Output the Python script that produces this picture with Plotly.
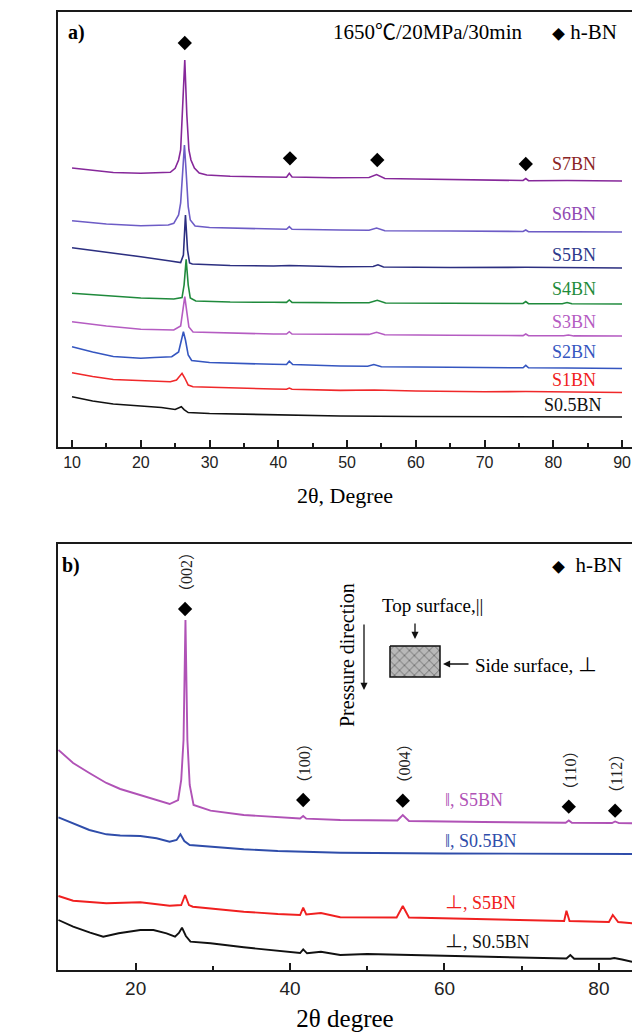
import plotly.graph_objects as go

# ---------------- panel a) : XRD patterns, 1650 C / 20 MPa / 30 min ----------------
s7_x = [10, 13, 16, 20, 23, 24.3, 25.0, 25.5, 25.8, 26.1, 26.4, 26.7, 27.0, 27.3, 27.8, 28.5, 29.6, 33, 39.3,
        41.2, 41.6, 42.0, 48, 53.2, 54.3, 55.5, 60, 70, 75.6, 76.0, 76.4, 82, 90]
s7_y = [279, 277, 274.5, 273.7, 274.5, 274.7, 278.7, 287, 297, 337, 387, 332, 297, 287, 279, 274, 272, 270.7,
        269.7, 269.8, 273.7, 270, 269.3, 269.5, 272.5, 268.5, 268, 267, 266.5, 268.5, 266.3, 266.5, 266]

s6_x = [10, 15, 20, 24, 24.8, 25.5, 25.8, 26.1, 26.35, 26.6, 26.9, 27.2, 27.9, 30, 39.3, 41.2, 41.6, 42.0,
        49, 53.2, 54.3, 55.5, 65, 75.6, 76.0, 76.4, 90]
s6_y = [226.3, 223, 221.3, 222, 223.7, 232, 244, 277, 302, 275, 240.3, 227, 221, 219.5, 217.7, 217.7, 220.3,
        217.7, 217, 216.8, 219, 216.3, 216, 215.5, 217, 215.4, 215]

s5_x = [10, 15, 20, 24.3, 25.8, 26.2, 26.5, 26.8, 27.1, 27.5, 33, 39.3, 41.6, 49, 53.8, 54.5, 55.3, 65, 76, 90]
s5_y = [199.3, 195, 190.3, 186, 184.5, 192, 232, 197, 184, 183, 181.5, 181, 181.5, 180.3, 180.5, 182.2, 180,
        179.5, 179.7, 179]

s4_x = [10, 15, 20, 24.8, 26.0, 26.3, 26.6, 26.9, 27.2, 28, 33, 39.3, 41.2, 41.6, 42.0, 49, 53.2, 54.4, 55.6,
        65, 75.6, 76.0, 76.4, 81.3, 82, 82.7, 90]
s4_y = [153.7, 151, 149, 148, 149.5, 162, 187.7, 162, 149, 146, 145, 144.7, 144.6, 147, 144.6, 144.3, 144.2,
        146.8, 144, 143.7, 143.5, 145.5, 143.4, 143.3, 144.5, 143.3, 143]

s3_x = [10, 15, 20, 24.8, 25.8, 26.1, 26.4, 26.7, 27.0, 27.6, 33, 39.3, 41.2, 41.6, 42.0, 49, 53.2, 54.3, 55.5,
        65, 75.6, 76.0, 76.4, 81.5, 82.2, 83, 90]
s3_y = [125.3, 121, 117.7, 117, 121, 135, 150.3, 135, 120, 115, 113.8, 113, 113, 115.3, 113, 112.7, 112.6,
        114.7, 112.2, 111.7, 111.4, 113, 111.3, 111.2, 112, 111.1, 111]

s2_x = [10, 13, 16, 20, 22, 24.5, 25.5, 25.9, 26.2, 26.5, 26.9, 27.4, 30, 39.3, 41.2, 41.6, 42.1, 49, 53,
        53.9, 55, 65, 75.6, 76.0, 76.4, 82, 90]
s2_y = [100.3, 95, 90.5, 88.7, 89.5, 90.3, 95, 107, 115.3, 107, 92, 86.5, 84.5, 82.7, 82.5, 85.8, 82.5, 81,
        80.7, 82.5, 80.3, 79.7, 79.2, 81.7, 79.2, 79, 78.5]

s1_x = [10, 13, 16, 20, 24.3, 25.2, 25.7, 26.0, 26.4, 26.9, 27.6, 33, 39.3, 41.2, 41.6, 42.0, 49, 54, 60, 70,
        76, 90]
s1_y = [74.3, 70.5, 67.5, 66.3, 65.3, 67, 72, 73.7, 69, 62, 60.3, 59, 58, 57.8, 59, 57.8, 56.6, 57, 56, 55.3,
        55.5, 54.5]

s05_x = [10, 13, 16, 20, 23, 25.0, 25.6, 25.9, 26.3, 26.9, 30, 39.3, 49, 60, 76, 90]
s05_y = [50.3, 46, 43, 41.3, 39.5, 37.5, 39.5, 40.3, 37.5, 34.5, 33.5, 32, 31, 30.5, 30.3, 30]

# h-BN reflections marked in panel a)
hbn_a_x = [26.4, 41.7, 54.4, 76.0]
hbn_a_y = [404, 288.7, 287, 283]

# ---------------- panel b) : top (||) and side (perpendicular) surfaces ----------------
par_s5_x = [10, 11.9, 14, 16.2, 18, 20.6, 22.5, 24.4, 25.5, 25.9, 26.2, 26.45, 26.7, 27.0, 27.5, 29.7, 34, 38.4,
            41.3, 41.7, 42.1, 46.5, 53.9, 54.6, 55.4, 65, 75.7, 76.1, 76.5, 81.7, 82.1, 82.6, 84.3]
par_s5_y = [220, 207, 197, 187, 181, 175, 170, 166, 170, 190, 230, 350, 230, 185, 165, 159.3, 155, 152.7,
            151.5, 154, 151.3, 150, 149.5, 155, 149, 148, 147.3, 149.5, 147.2, 147, 148.5, 146.9, 146.7]

par_s05_x = [10, 11.9, 14, 16.2, 18, 20.6, 22.7, 24.4, 25.3, 25.8, 26.3, 27.0, 29.7, 34, 38.4, 41.7, 46.5, 60,
             84.3]
par_s05_y = [152.7, 146.7, 140, 135.7, 134.5, 134, 131.7, 128.3, 130, 135.7, 129, 125, 123.3, 120.7, 119, 118.5,
             117.3, 116.5, 116]

per_s5_x = [10, 11.9, 16.2, 20.6, 24.4, 25.9, 26.4, 26.9, 27.4, 29.7, 34, 38.4, 41.3, 41.7, 42.1, 44, 46.5,
            53.8, 54.6, 55.4, 60, 70, 75.5, 75.8, 76.2, 80, 81.3, 81.8, 82.5, 84.3]
per_s5_y = [74, 69.3, 66.7, 67.7, 64.3, 65, 75, 65, 63.3, 61.7, 58.3, 56, 55, 62.3, 55.5, 57, 52.7, 52.5, 64,
            52.5, 51.7, 50, 49, 59.3, 49, 48.3, 48, 55, 48, 46.7]

per_s05_x = [10, 11.9, 14.1, 15.8, 17.8, 20.6, 22.3, 24.0, 25.1, 25.6, 26.0, 26.5, 27.1, 29.7, 34, 38.4, 41.3,
             41.7, 42.2, 44, 46.5, 50, 60, 70, 75.8, 76.3, 76.8, 81.5, 82, 83, 84.3]
per_s05_y = [50, 43.3, 37.3, 33.3, 36.7, 40, 40, 36.7, 33.3, 37, 42.3, 34, 28.3, 26.7, 22.7, 19.3, 17, 20.7,
             16.7, 18.3, 15, 16, 14, 12.7, 11.5, 15, 11.3, 11.2, 12, 10.5, 8.3]

hbn_b_x = [26.4, 41.7, 54.6, 76.1, 82.1]
hbn_b_y = [361, 170, 169.3, 163.3, 159.3]
hkl_b = ["002", "100", "004", "110", "112"]

# ---------------- styling ----------------
W, H = 632, 1035
SERIF = "Liberation Serif, Times New Roman, Noto Sans CJK SC, DejaVu Serif"
SANS = "Liberation Sans, Arial, sans-serif"
CJK = "Noto Sans CJK SC"
AX = "#1a1a1a"

series_a = [
    ("S7BN", s7_x, s7_y, "#86289A", "#8B2424", 283),
    ("S6BN", s6_x, s6_y, "#6D5CC6", "#9048B2", 232.7),
    ("S5BN", s5_x, s5_y, "#2C2F80", "#2E3A8C", 192),
    ("S4BN", s4_x, s4_y, "#1F8A3C", "#1E8B3A", 157.7),
    ("S3BN", s3_x, s3_y, "#B55CC2", "#B55CC2", 125.3),
    ("S2BN", s2_x, s2_y, "#3556C0", "#3556C0", 95.3),
    ("S1BN", s1_x, s1_y, "#F0282A", "#F02020", 67),
    ("S0.5BN", s05_x, s05_y, "#111111", "#111111", 42),
]

series_b = [
    ("‖, S5BN", par_s5_x, par_s5_y, "#B052B6", 170),
    ("‖, S0.5BN", par_s05_x, par_s05_y, "#2F4DAA", 129.3),
    ("⊥, S5BN", per_s5_x, per_s5_y, "#F02020", 66.7),
    ("⊥, S0.5BN", per_s05_x, per_s05_y, "#111111", 28.3),
]

fig = go.Figure()
annotations = []

for name, xs, ys, lc, tc, ly in series_a:
    fig.add_trace(go.Scatter(x=xs, y=ys, mode="lines", name=name, showlegend=False,
                             line=dict(color=lc, width=1.6), xaxis="x", yaxis="y"))
    annotations.append(dict(x=79.5 if name != "S0.5BN" else 78.4, y=ly, xref="x", yref="y", text=name,
                            showarrow=False, xanchor="left", yanchor="middle",
                            font=dict(family=SERIF, size=18, color=tc)))

fig.add_trace(go.Scatter(x=hbn_a_x, y=hbn_a_y, mode="markers", showlegend=False,
                         marker=dict(symbol="diamond", size=11, color="black"), xaxis="x", yaxis="y"))

for name, xs, ys, lc, ly in series_b:
    fig.add_trace(go.Scatter(x=xs, y=ys, mode="lines", name=name, showlegend=False,
                             line=dict(color=lc, width=1.9), xaxis="x2", yaxis="y2"))
    annotations.append(dict(x=59.8, y=ly, xref="x2", yref="y2", text=name, showarrow=False,
                            xanchor="left", yanchor="middle", font=dict(family=SERIF, size=18, color=lc)))

fig.add_trace(go.Scatter(x=hbn_b_x, y=hbn_b_y, mode="markers", showlegend=False,
                         marker=dict(symbol="diamond", size=11, color="black"), xaxis="x2", yaxis="y2"))
for hx, hy, lab in zip(hbn_b_x, hbn_b_y, hkl_b):
    text = (f"<span style='font-family:{CJK}'>（</span>{lab}"
            f"<span style='font-family:{CJK}'>）</span>")
    annotations.append(dict(x=hx, y=hy, xref="x2", yref="y2", text=text, showarrow=False, textangle=-90,
                            xanchor="center", yanchor="bottom", yshift=7,
                            font=dict(family=SERIF, size=16, color="#222")))

# sample sketch for panel b) drawn in pixel coordinates on a hidden full-page axis
fig.add_trace(go.Scatter(x=[390, 440, 440, 390, 390], y=[646, 646, 677, 677, 646], mode="lines",
                         fill="toself", showlegend=False, hoverinfo="skip",
                         fillpattern=dict(shape="x", fgcolor="#2a2a2a", bgcolor="#b8b8b8", size=7, solidity=0.25),
                         line=dict(color="#111", width=1.5), xaxis="x3", yaxis="y3"))


def px(x, y, text, **kw):
    d = dict(x=x, y=y, xref="x3", yref="y3", text=text, showarrow=False)
    d.update(kw)
    annotations.append(d)


def arrow(x0, y0, x1, y1):
    annotations.append(dict(x=x1, y=y1, ax=x0, ay=y0, xref="x3", yref="y3", axref="x3", ayref="y3",
                            text="", showarrow=True, arrowhead=2, arrowsize=1.1, arrowwidth=1.3,
                            arrowcolor="#111"))


# panel captions
px(76, 32, "<b>a)</b>", font=dict(family=SERIF, size=20, color="black"))
px(428, 32, "1650℃/20MPa/30min", font=dict(family=SERIF, size=21, color="black"))
px(550, 32, "<span style='font-size:13px'>◆</span> h-BN", xanchor="left",
   font=dict(family=SERIF, size=21, color="black"))
px(71, 565, "<b>b)</b>", font=dict(family=SERIF, size=20, color="black"))
px(550, 565, "<span style='font-size:13px'>◆</span>  h-BN", xanchor="left",
   font=dict(family=SERIF, size=21, color="black"))

# y-axis titles
px(22, 247, "Relative intensity", textangle=-90, font=dict(family=SERIF, size=22, color="black"))
px(23, 773, "Relative Intensity", textangle=-90, font=dict(family=SERIF, size=25, color="black"))

# pressure sketch
px(347, 655, "Pressure direction", textangle=-90, font=dict(family=SERIF, size=20, color="black"))
arrow(364, 623, 364, 690)
px(432, 605, "Top surface,||", font=dict(family=SERIF, size=19, color="black"))
arrow(415, 622, 415, 639)
arrow(470, 664, 443, 664)
px(473, 665, "Side surface, ⊥", xanchor="left", font=dict(family=SERIF, size=19, color="black"))

fig.update_layout(
    width=W, height=H, autosize=False,
    margin=dict(l=58, r=0, t=12, b=65),
    paper_bgcolor="white", plot_bgcolor="rgba(0,0,0,0)",
    showlegend=False,
    annotations=annotations,
    xaxis=dict(domain=[0, 1], range=[7.96, 91.45], anchor="y", showline=True, linecolor=AX, linewidth=2,
               mirror=True, showgrid=False, zeroline=False, ticks="inside", ticklen=7, tickwidth=1.5,
               tickcolor=AX, tick0=10, dtick=10, tickfont=dict(family=SANS, size=16, color="#222"),
               minor=dict(ticks="inside", ticklen=4, tickwidth=1.5, tickcolor=AX, dtick=5, tick0=10),
               title=dict(text="2θ, Degree", font=dict(family=SERIF, size=22, color="black"), standoff=17)),
    yaxis=dict(domain=[0.5459, 1], range=[0, 435], anchor="x", showline=True, linecolor=AX, linewidth=2,
               showgrid=False, zeroline=False, showticklabels=False, ticks=""),
    xaxis2=dict(domain=[0, 1], range=[9.94, 84.29], anchor="y2", showline=True, linecolor=AX, linewidth=2,
                mirror=True, showgrid=False, zeroline=False, ticks="inside", ticklen=7, tickwidth=1.5,
                tickcolor=AX, tick0=0, dtick=20, tickfont=dict(family=SANS, size=19, color="#222"),
                minor=dict(ticks="inside", ticklen=4, tickwidth=1.5, tickcolor=AX, dtick=10, tick0=0),
                title=dict(text="2θ degree", font=dict(family=SERIF, size=25, color="black"), standoff=12)),
    yaxis2=dict(domain=[0, 0.4447], range=[0, 426], anchor="x2", showline=True, linecolor=AX, linewidth=2,
                showgrid=False, zeroline=False, showticklabels=False, ticks=""),
    xaxis3=dict(domain=[0, 1], range=[58, 632], anchor="y3", visible=False, fixedrange=True),
    yaxis3=dict(domain=[0, 1], range=[970, 12], anchor="x3", visible=False, fixedrange=True),
)

fig.write_html("out.html")
